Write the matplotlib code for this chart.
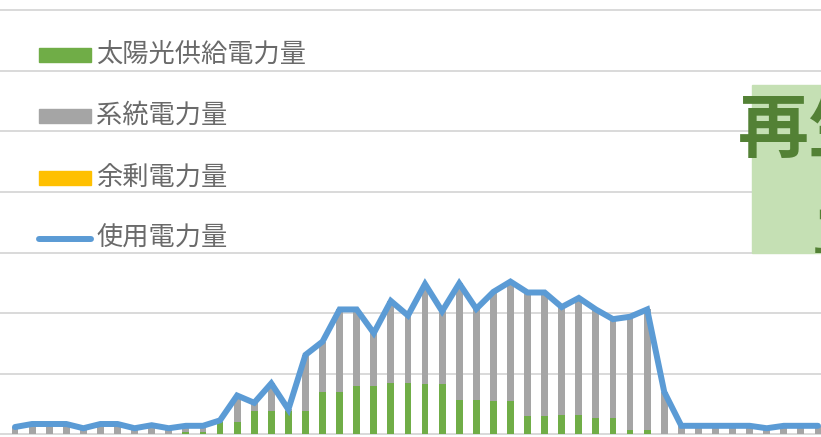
import matplotlib
matplotlib.use("Agg")
import matplotlib.pyplot as plt
from matplotlib.patches import Rectangle
from matplotlib.lines import Line2D
import numpy as np

plt.rcParams['font.family'] = ['Noto Sans CJK JP', 'DejaVu Sans']

# 48 half-hour slots
slots = list(range(48))
usage = [0.12, 0.17, 0.17, 0.17, 0.10, 0.17, 0.17, 0.10, 0.15, 0.10,
         0.14, 0.14, 0.23, 0.64, 0.52, 0.84, 0.41, 1.31, 1.53, 2.06,
         2.06, 1.67, 2.20, 1.96, 2.48, 2.03, 2.49, 2.07, 2.35, 2.52,
         2.34, 2.34, 2.10, 2.25, 2.06, 1.90, 1.94, 2.06, 0.70, 0.14,
         0.14, 0.14, 0.14, 0.14, 0.10, 0.14, 0.14, 0.14]
solar = [0.0, 0.0, 0.0, 0.0, 0.0, 0.0, 0.0, 0.0, 0.0, 0.0,
         0.04, 0.04, 0.20, 0.20, 0.39, 0.39, 0.39, 0.39, 0.70, 0.70,
         0.80, 0.80, 0.85, 0.85, 0.835, 0.835, 0.57, 0.57, 0.545, 0.545,
         0.31, 0.31, 0.325, 0.325, 0.275, 0.275, 0.077, 0.077, 0.0, 0.0,
         0.0, 0.0, 0.0, 0.0, 0.0, 0.0, 0.0, 0.0]
grid_power = [round(u - s, 3) for u, s in zip(usage, solar)]
surplus = [0.0] * 48

labels = ['太陽光供給電力量', '系統電力量', '余剰電力量', '使用電力量']
c_green, c_gray, c_yellow, c_blue = '#70AD47', '#A5A5A5', '#FFC000', '#5B9BD5'

W, H = 821, 437
fig = plt.figure(figsize=(W / 100, H / 100), dpi=100)
ax = fig.add_axes([0, 0, 1, 1])

x = np.array(slots)
bw = 0.4
ax.bar(x, solar, width=bw, color=c_green, zorder=2)
ax.bar(x, grid_power, width=bw, bottom=solar, color=c_gray, zorder=2)
ax.bar(x, surplus, width=bw, bottom=np.array(solar) + np.array(grid_power), color=c_yellow, zorder=2)
ax.plot(x, usage, color=c_blue, lw=4.3, solid_joinstyle='miter', solid_capstyle='round', zorder=3)

ax.set_xlim(-15 / 17.085, (W - 15) / 17.085)
ax.set_ylim(-(H - 434.3) / 60.6, 434.3 / 60.6)
ax.set_yticks(range(8))
ax.set_xticks([])
ax.tick_params(left=False, labelleft=False)
ax.grid(axis='y', color='#D9D9D9', lw=1.4)
ax.set_axisbelow(True)
for s in ax.spines.values():
    s.set_visible(False)

def fx(px):
    return px / W

def fy(py):
    return 1 - py / H

# legend (manual)
rows = [55.3, 116.5, 178.2, 239.3]
colors = [c_green, c_gray, c_yellow]
for i, lab in enumerate(labels):
    yc = rows[i]
    if i < 3:
        fig.patches.append(Rectangle((fx(39), fy(yc + 7)), 52 / W, 14 / H,
                                     transform=fig.transFigure, color=colors[i]))
    else:
        fig.lines.append(Line2D([fx(39), fx(91)], [fy(yc), fy(yc)], transform=fig.transFigure,
                                color=c_blue, lw=4.3, solid_capstyle='round'))
    fig.text(fx(96), fy(yc - 1), lab, fontsize=18.9, color='#6A6A6A', ha='left', va='center')

# green callout box (clipped by figure edge)
box = Rectangle((fx(752), fy(253)), 100 / W, 168 / H, transform=fig.transFigure,
                color='#C5E0B4', zorder=5)
fig.patches.append(box)
t1 = fig.text(fx(738), fy(131), '再生可能', fontsize=51, fontweight='bold', color='#538135',
              ha='left', va='center', zorder=6)
t2 = fig.text(fx(810), fy(238), 'エネ', fontsize=51, fontweight='bold', color='#538135',
              ha='left', va='center', zorder=6)
t2.set_clip_path(box)

fig.savefig('out.png', dpi=100)
